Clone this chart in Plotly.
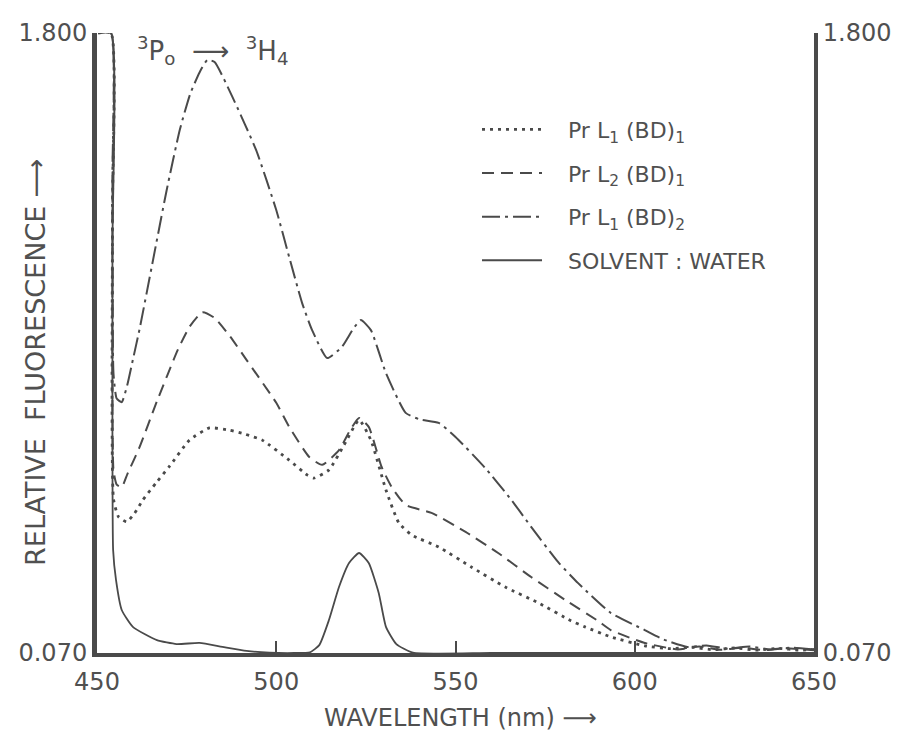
import plotly.graph_objects as go

# ---- data (wavelength nm, relative fluorescence) ----
wl_l1bd1 = [450.3, 453.9, 454.3, 454.6, 456.0, 458.3, 460.5, 462.8, 466.5, 470.3, 475.8, 481.4, 486.9,
            491.5, 496.1, 503.6, 508.6, 510.5, 514.7, 518.9, 523.1, 526.4, 530.6, 534.2, 537.8, 545.3,
            554.4, 563.9, 573.1, 582.2, 586.1, 593.3, 602.8, 610, 616, 622, 628, 634, 640, 646, 650]
fl_l1bd1 = [1.80, 1.80, 1.30, 0.50, 0.45, 0.436, 0.46, 0.497, 0.545, 0.592, 0.664, 0.698, 0.692,
            0.680, 0.664, 0.608, 0.567, 0.558, 0.581, 0.650, 0.720, 0.664, 0.525, 0.433, 0.399, 0.366,
            0.310, 0.254, 0.210, 0.160, 0.143, 0.115, 0.090, 0.082, 0.086, 0.079, 0.084, 0.078, 0.083, 0.078, 0.080]

wl_l2bd1 = [450.3, 453.9, 454.3, 454.6, 455.5, 456.9, 458.5, 461.9, 466.7, 472.5, 475.8, 479.4, 482.8,
            487.0, 491.7, 500.0, 503.6, 509.2, 512.8, 517.5, 520.5, 523.1, 525.8, 529.4, 532.2, 536.1,
            543.3, 552.8, 561.9, 571.1, 580.6, 589.7, 593.3, 602.8, 612, 618, 624, 630, 636, 642, 650]
fl_l2bd1 = [1.80, 1.80, 1.30, 0.58, 0.54, 0.533, 0.57, 0.645, 0.772, 0.915, 0.980, 1.021, 1.005,
            0.955, 0.888, 0.768, 0.701, 0.617, 0.595, 0.636, 0.690, 0.726, 0.701, 0.589, 0.533, 0.483,
            0.461, 0.408, 0.349, 0.282, 0.218, 0.160, 0.134, 0.098, 0.080, 0.088, 0.079, 0.085, 0.078, 0.083, 0.078]

wl_l1bd2 = [450.3, 453.9, 454.3, 454.6, 455.5, 456.9, 458.5, 460.0, 461.9, 465.6, 469.4, 473.1, 476.0,
            478.6, 480.8, 482.8, 487.8, 494.4, 500.0, 503.6, 507.2, 510.0, 514.2, 518.3, 521.5, 523.6,
            526.4, 530.6, 536.1, 540.0, 545.3, 550.0, 558.3, 565.6, 571.1, 578.6, 584.2, 593.3, 602.8, 608,
            614.7, 620, 626, 632, 638, 644, 650]
fl_l1bd2 = [1.80, 1.80, 1.40, 0.85, 0.78, 0.770, 0.82, 0.888, 0.975, 1.165, 1.360, 1.530, 1.630,
            1.690, 1.725, 1.719, 1.621, 1.473, 1.306, 1.175, 1.047, 0.971, 0.893, 0.924, 0.975, 0.999,
            0.971, 0.851, 0.740, 0.722, 0.712, 0.673, 0.586, 0.497, 0.422, 0.324, 0.265, 0.182, 0.134, 0.108,
            0.087, 0.091, 0.082, 0.088, 0.080, 0.085, 0.080]

wl_water = [450.3, 453.9, 454.3, 454.5, 455.3, 456.9, 460.0, 466.7, 472.2, 478.6, 485.0, 491.7, 498.1,
            505.0, 509.4, 512.0, 514.7, 517.5, 520.3, 523.1, 525.8, 528.6, 530.6, 533.5, 538.1, 560, 600, 650]
fl_water = [1.80, 1.80, 1.20, 0.357, 0.274, 0.190, 0.143, 0.106, 0.095, 0.098, 0.087, 0.076, 0.071,
            0.070, 0.072, 0.092, 0.162, 0.254, 0.321, 0.349, 0.321, 0.237, 0.143, 0.095, 0.071, 0.070, 0.070, 0.070]

PAD = "\u00a0\u00a0\u00a0"
names = [PAD + "Pr L<sub>1</sub> (BD)<sub>1</sub>", PAD + "Pr L<sub>2</sub> (BD)<sub>1</sub>",
         PAD + "Pr L<sub>1</sub> (BD)<sub>2</sub>", PAD + "SOLVENT : WATER"]

x_ticks = [450, 500, 550, 600, 650]
y_ticks = [0.07, 1.8]
y_ticktext = ["0.070", "1.800"]

INK = "#4a4a4a"
TXT = "#505050"
FONT = "DejaVu Sans"

fig = go.Figure()
series = [
    (wl_l1bd1, fl_l1bd1, "3px,5px", 2.8),
    (wl_l2bd1, fl_l2bd1, "12px,7px", 2.0),
    (wl_l1bd2, fl_l1bd2, "18px,5px,3px,5px", 2.0),
    (wl_water, fl_water, "solid", 1.8),
]
for i, ((xs, ys, dash, w), nm) in enumerate(zip(series, names)):
    fig.add_trace(go.Scatter(x=xs, y=ys, mode="lines", name=nm, legendgroup=f"g{i}",
                             line=dict(color=INK, width=w, dash=dash, shape="spline", smoothing=0.5)))

# invisible trace for the right axis
fig.add_trace(go.Scatter(x=[450], y=[0.07], yaxis="y2", mode="markers",
                         marker=dict(opacity=0), showlegend=False, hoverinfo="skip"))

fig.update_layout(
    width=904, height=734,
    margin=dict(l=97, r=87, t=33, b=81),
    paper_bgcolor="white", plot_bgcolor="white",
    font=dict(family=FONT, color=TXT, size=21),
    xaxis=dict(range=[450, 650], tickvals=x_ticks, showgrid=False, zeroline=False,
               showline=True, linewidth=4, linecolor=INK, ticks="inside", ticklen=12,
               tickwidth=2, tickcolor=INK, tickfont=dict(size=24), ticklabelstandoff=4),
    yaxis=dict(range=[0.07, 1.8], tickvals=y_ticks, ticktext=y_ticktext, showgrid=False,
               zeroline=False, showline=True, linewidth=5, linecolor=INK, ticks="inside",
               ticklen=13, tickwidth=2, tickcolor=INK, tickfont=dict(size=24)),
    yaxis2=dict(range=[0.07, 1.8], tickvals=y_ticks, ticktext=y_ticktext, overlaying="y",
                side="right", showgrid=False, zeroline=False, showline=True, linewidth=4,
                linecolor=INK, ticks="inside", ticklen=13, tickwidth=2, tickcolor=INK,
                tickfont=dict(size=24)),
    legend=dict(x=0.53, y=0.878, xanchor="left", yanchor="top", bgcolor="rgba(0,0,0,0)",
                font=dict(size=22, color=TXT), tracegroupgap=12, itemwidth=60),
    showlegend=True,
)

fig.add_annotation(text="RELATIVE  FLUORESCENCE ⟶", xref="paper", yref="paper",
                   x=-0.086, y=0.47, xanchor="center", yanchor="middle", textangle=-90,
                   showarrow=False, font=dict(size=27, color=TXT))
fig.add_annotation(text="WAVELENGTH (nm) ⟶", xref="paper", yref="paper",
                   x=0.507, y=-0.105, xanchor="center", yanchor="middle", showarrow=False,
                   font=dict(size=24, color=TXT))
fig.add_annotation(text="<sup>3</sup>P<sub>o</sub>\u00a0\u00a0⟶\u00a0\u00a0<sup>3</sup>H<sub>4</sub>",
                   xref="paper", yref="paper", x=0.053, y=1.005, xanchor="left", yanchor="top",
                   showarrow=False, font=dict(size=26, color=TXT))

fig.write_html("out.html")
